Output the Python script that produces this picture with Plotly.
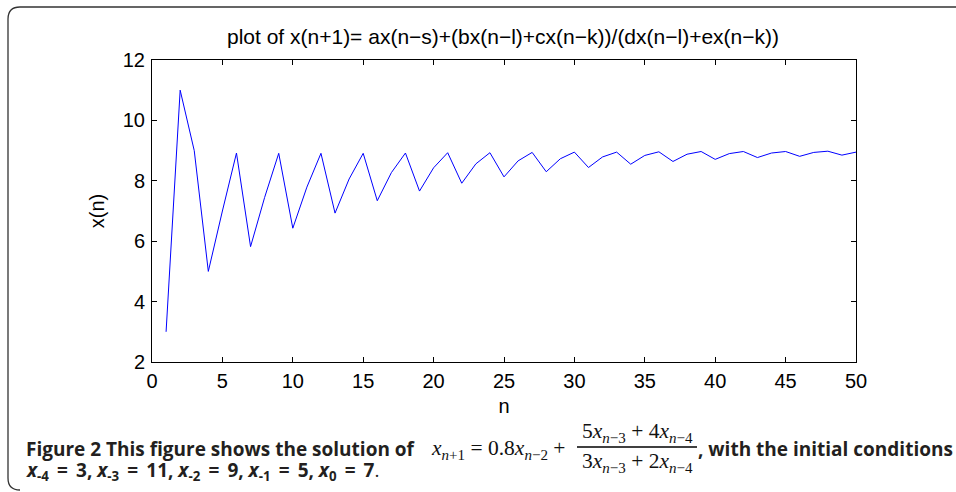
import plotly.graph_objects as go

# Data
n_values = list(range(1, 51))
x_values = [3.00, 11.00, 9.00, 5.00, 7.00, 8.92, 5.82, 7.45, 8.91, 6.43,
            7.79, 8.91, 6.93, 8.06, 8.91, 7.34, 8.27, 8.92, 7.66, 8.43,
            8.93, 7.92, 8.56, 8.93, 8.13, 8.66, 8.94, 8.30, 8.73, 8.95,
            8.44, 8.79, 8.95, 8.55, 8.84, 8.96, 8.64, 8.88, 8.97, 8.71,
            8.90, 8.97, 8.77, 8.92, 8.97, 8.81, 8.94, 8.98, 8.85, 8.95]
x_ticks = [0, 5, 10, 15, 20, 25, 30, 35, 40, 45, 50]
y_ticks = [2, 4, 6, 8, 10, 12]

title_text = "plot of x(n+1)= ax(n\u2212s)+(bx(n\u2212l)+cx(n\u2212k))/(dx(n\u2212l)+ex(n\u2212k))"

W, H = 956, 492
ML, MR, MT, MB = 152, 100, 60, 130
PW, PH = W - ML - MR, H - MT - MB


def px(x):
    return (x - ML) / PW


def py(y):
    return (H - MB - y) / PH


fig = go.Figure()
fig.add_trace(go.Scatter(x=n_values, y=x_values, mode="lines",
                         line=dict(color="#0000ff", width=1),
                         hoverinfo="x+y", showlegend=False))

axis_font = dict(family="Liberation Sans, Arial, sans-serif", size=20, color="#000")

fig.update_layout(
    width=W, height=H,
    margin=dict(l=ML, r=MR, t=MT, b=MB),
    paper_bgcolor="white", plot_bgcolor="white",
    title=dict(text=title_text, x=px(503), xref="paper", xanchor="center",
               y=1 - 37 / H, yref="container", yanchor="middle",
               font=dict(family="Liberation Sans, Arial, sans-serif", size=21, color="#000")),
    xaxis=dict(range=[0, 50], tickvals=x_ticks, ticks="inside", ticklen=5,
               tickcolor="#000", showline=True, linecolor="#000", linewidth=1,
               mirror="ticks", showgrid=False, zeroline=False,
               tickfont=axis_font, ticklabelstandoff=1,
               title=dict(text="n", font=axis_font, standoff=7)),
    yaxis=dict(range=[2, 12], tickvals=y_ticks, ticks="inside", ticklen=5,
               tickcolor="#000", showline=True, linecolor="#000", linewidth=1,
               mirror="ticks", showgrid=False, zeroline=False,
               tickfont=axis_font, ticklabelstandoff=2,
               title=dict(text="x(n)", font=axis_font, standoff=12)),
)

cap_font = dict(family="Open Sans, Noto Sans, sans-serif", size=19, color="#231f20")
math_font = dict(family="Liberation Serif, Times New Roman, serif", size=21.5, color="#111")


def ann(x, y, text, font, anchor="left"):
    fig.add_annotation(x=px(x), y=py(y), xref="paper", yref="paper",
                       text=text, showarrow=False, xanchor=anchor,
                       yanchor="middle", font=font, borderpad=0)


EQ = " \u2009=\u2009 "
ann(25, 449, "<b>Figure 2</b> <b>This figure shows the solution of</b>", cap_font)
ann(430, 449, "<i>x</i><sub><i>n</i>+1</sub> = 0.8<i>x</i><sub><i>n</i>\u22122</sub> +", math_font)
ann(637, 432, "5<i>x</i><sub><i>n</i>\u22123</sub> + 4<i>x</i><sub><i>n</i>\u22124</sub>", math_font, "center")
ann(637, 462, "3<i>x</i><sub><i>n</i>\u22123</sub> + 2<i>x</i><sub><i>n</i>\u22124</sub>", math_font, "center")
ann(697, 449, "<b>, with the initial conditions</b>", cap_font)
ann(25, 471, f"<b><i>x</i><sub>-4</sub>{EQ}3, <i>x</i><sub>-3</sub>{EQ}11, <i>x</i><sub>-2</sub>{EQ}9, "
             f"<i>x</i><sub>-1</sub>{EQ}5, <i>x</i><sub>0</sub>{EQ}7</b>.", cap_font)

# fraction bar
fig.add_shape(type="line", xref="paper", yref="paper",
              x0=px(577), x1=px(697), y0=py(447), y1=py(447),
              line=dict(color="#000", width=1.5))

# rounded figure frame
L, T, B, R, r = 8, 7, 490, 990, 12
path = (f"M {px(L + r)},{py(T)} L {px(R)},{py(T)} "
        f"M {px(L + r)},{py(T)} Q {px(L)},{py(T)} {px(L)},{py(T + r)} "
        f"L {px(L)},{py(B - r)} Q {px(L)},{py(B)} {px(L + r)},{py(B)}")
fig.add_shape(type="path", xref="paper", yref="paper", path=path,
              line=dict(color="#333", width=1.3), layer="below")

fig.write_html("out.html", config={"displayModeBar": False},
               post_script="document.body.style.margin='0';document.body.style.overflow='hidden';")
